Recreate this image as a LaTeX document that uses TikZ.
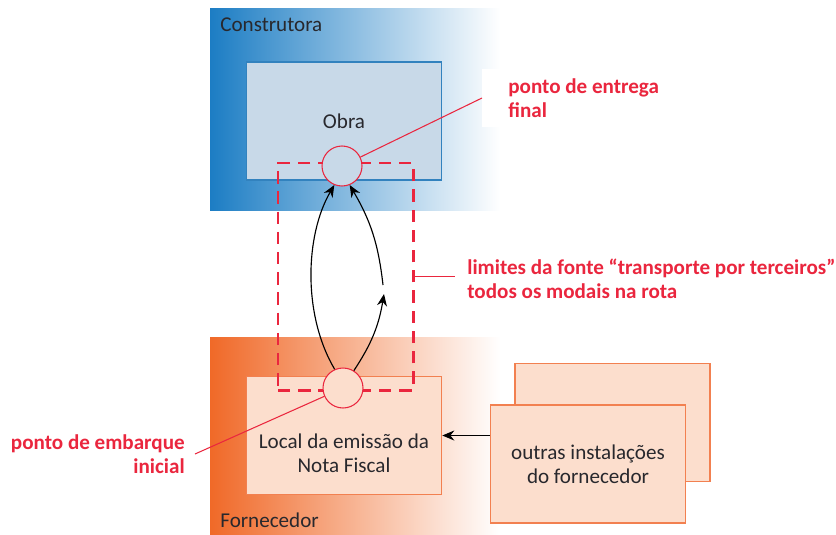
\documentclass[tikz,border=0pt]{standalone}
\usepackage{fontspec}
\setmainfont{Carlito}
\usetikzlibrary{arrows.meta}
\definecolor{azul}{RGB}{28,125,196}
\definecolor{bordaazul}{RGB}{50,130,190}
\definecolor{fundoazul}{RGB}{200,217,232}
\definecolor{laranja}{RGB}{240,105,40}
\definecolor{bordalaranja}{RGB}{242,128,80}
\definecolor{fundolaranja}{RGB}{252,222,205}
\definecolor{vermelho}{RGB}{234,38,62}
\definecolor{cinza}{RGB}{40,40,45}
\begin{document}
\begin{tikzpicture}[
        texto/.style={text=cinza, font=\fontsize{12}{13.6}\selectfont, inner sep=0pt},
        rotulo/.style={text=vermelho, font=\fontsize{12}{13.6}\selectfont\bfseries, inner sep=0pt},
        caixaazul/.style={draw=bordaazul, line width=0.8pt, fill=fundoazul, minimum width=3.9cm, minimum height=2.36cm},
        caixalaranja/.style={draw=bordalaranja, line width=0.9pt, fill=fundolaranja, minimum width=3.9cm, minimum height=2.36cm},
        ponto/.style={circle, draw=vermelho, line width=0.6pt, minimum size=0.8cm, inner sep=0pt},
        limite/.style={draw=vermelho, line width=1.7pt, dash pattern=on 7pt off 4.5pt, minimum width=2.7cm, minimum height=4.54cm},
        fio/.style={draw=vermelho, line width=0.6pt},
        seta/.style={-{Stealth[length=2.4mm,width=2mm]}, line width=0.65pt}
    ]
        \useasboundingbox (0,0) rectangle (16.72,-10.68);
        %% areas: construtora (top), fornecedor (bottom)
        \shade[left color=azul, right color=white] (4.2,-0.16) rectangle (10.0,-4.2);
        \shade[left color=laranja, right color=white] (4.2,-6.74) rectangle (10.0,-10.68);
        \node[texto, anchor=west] (construtora) at (4.4,-0.5) {Construtora};
        \node[texto, anchor=west] (fornecedor) at (4.4,-10.4) {Fornecedor};
        %% boxes
        \node[caixaazul, texto] (obra) at (6.88,-2.42) {Obra};
        \node[caixalaranja] (local) at (6.88,-8.71) {};
        \node[texto, align=center] (localtxt) at (6.88,-9.06) {Local da emissão da\\Nota Fiscal};
        \node[caixalaranja] (outras2) at (12.25,-8.45) {};
        \node[caixalaranja, texto, align=center] (outras) at (11.76,-9.28) {outras instalações\\do fornecedor};
        \draw[seta] (outras.west |- local.east) -- (local.east);
        %% limits of the source
        \node[limite] (limite) at (6.91,-5.53) {};
        \node[ponto, fill=fundoazul] (entrega) at (6.84,-3.32) {};
        \node[ponto, fill=fundolaranja] (embarque) at (6.86,-7.76) {};
        %% routes
        \coordinate (meio) at (7.68,-5.88);
        \coordinate (meio2) at (7.66,-5.7);
        \draw[seta] (embarque.114) .. controls (6.05,-6.3) and (6.1,-4.7) .. (entrega.248);
        \draw[seta] (embarque.58) to[bend right=12] (meio);
        \draw[seta] (meio2) to[bend right=12] (entrega.292);
        %% labels
        \node[rotulo, fill=white, inner xsep=0.52cm, inner ysep=0.2cm, anchor=west, align=left] (entregatxt) at (9.64,-1.96) {ponto de entrega\\final};
        \draw[fio] (entrega) -- (entregatxt.west);
        \node[rotulo, anchor=west, align=left] (limitetxt) at (9.34,-5.58) {limites da fonte “transporte por terceiros”\\todos os modais na rota};
        \draw[fio] (limite.east) -- ([xshift=-0.24cm]limite.east -| limitetxt.west);
        \node[rotulo, inner xsep=0.2cm, anchor=east, align=right] (embarquetxt) at (3.9,-9.08) {ponto de embarque\\inicial};
        \draw[fio] (embarque) -- (embarquetxt.east);
\end{tikzpicture}
\end{document}
